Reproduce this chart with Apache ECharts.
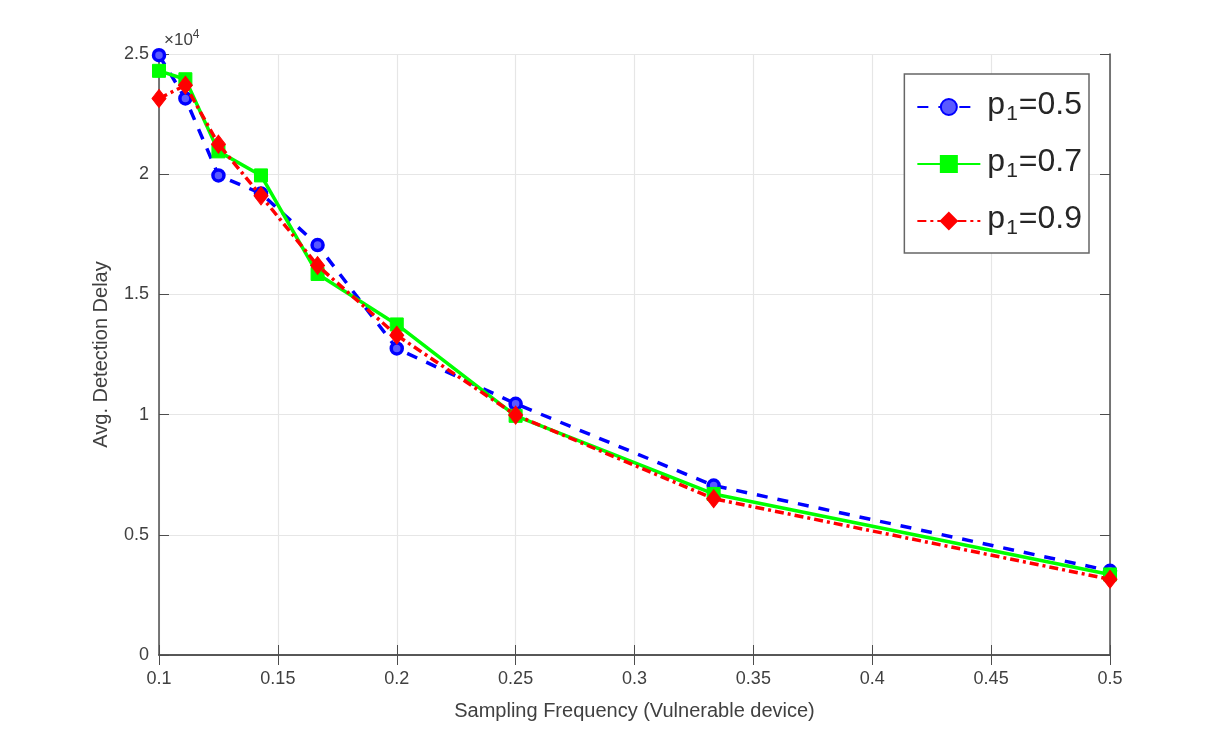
<!DOCTYPE html>
<html>
<head>
<meta charset="utf-8">
<script src="https://cdn.jsdelivr.net/npm/echarts@6/dist/echarts.min.js"></script>
<style>
  html, body { margin: 0; padding: 0; background: #fff; }
  #chart { width: 1225px; height: 736px; }
</style>
</head>
<body>
<div id="chart"></div>
<script>
  // sampling frequency (x) = 1/N
  var freq = [0.1, 0.1111, 0.125, 0.1429, 0.1667, 0.2, 0.25, 0.3333, 0.5]
  // avg. detection delay
  var delayP05 = [24950, 23150, 19950, 19200, 17050, 12750, 10450, 7050, 3500]
  var delayP07 = [24300, 23950, 20950, 19950, 15850, 13750, 9950, 6700, 3350]
  var delayP09 = [23150, 23700, 21250, 19100, 16200, 13300, 9980, 6500, 3150]
  var seriesNames = ['p1=0.5', 'p1=0.7', 'p1=0.9']
  var xTicks = [0.1, 0.5, 0.05]
  var yTicks = [0, 25000, 5000]

  function pairs(ys){
    return ys.map(function(y, i){ return [freq[i], y] })
  }

  var axisColor = '#4d4d4d'
  var labelColor = '#404040'
  var gridColor = '#e6e6e6'
  var font = 'Liberation Sans, Arial, sans-serif'

  var myChart = echarts.init(document.getElementById('chart'))
  var chartOption = {
    backgroundColor: '#fff',
    animation: false,
    textStyle: { fontFamily: font },
    grid: { left: 159, right: 115, top: 54, bottom: 81 },
    graphic: [{
      type: 'text',
      left: 164,
      top: 29,
      style: {
        text: '{a|×10}{b|4}',
        fill: labelColor,
        rich: {
          a: { fontSize: 17, fontFamily: font, fill: labelColor, lineHeight: 20, verticalAlign: 'bottom' },
          b: { fontSize: 12, fontFamily: font, fill: labelColor, lineHeight: 10, verticalAlign: 'top' }
        }
      }
    }],
    legend: {
      orient: 'vertical',
      right: 136,
      top: 74,
      data: seriesNames,
      backgroundColor: '#fff',
      borderColor: '#666',
      borderWidth: 1.5,
      borderRadius: 0,
      padding: [15, 7, 14, 12],
      itemWidth: 63,
      itemHeight: 20,
      itemGap: 21,
      formatter: function(n){ return '{m|p}{s|1}{m|' + n.slice(2) + '}' },
      textStyle: {
        fontSize: 32,
        color: '#262626',
        fontFamily: font,
        padding: [0, 0, 0, 2],
        rich: {
          m: { fontSize: 32, fontFamily: font, color: '#262626', lineHeight: 36, verticalAlign: 'top' },
          s: { fontSize: 21, fontFamily: font, color: '#262626', lineHeight: 10, verticalAlign: 'bottom', padding: [0, 1, 0, 1] }
        }
      }
    },
    xAxis: [{
      type: 'value',
      min: xTicks[0], max: xTicks[1], interval: xTicks[2],
      name: 'Sampling Frequency (Vulnerable device)',
      nameLocation: 'middle',
      nameGap: 46,
      nameTextStyle: { fontSize: 20, color: labelColor },
      axisLine: { lineStyle: { color: axisColor, width: 1.5 } },
      axisTick: { inside: true, length: 10, lineStyle: { color: axisColor } },
      axisLabel: { fontSize: 18, color: labelColor, margin: 15,
        formatter: function(v){ return +v.toFixed(2) + '' } },
      splitLine: { show: true, lineStyle: { color: gridColor, width: 1.2 } }
    }, {
      type: 'value',
      position: 'top',
      min: xTicks[0], max: xTicks[1], interval: xTicks[2],
      axisLine: { show: true, lineStyle: { color: axisColor, width: 1.5 } },
      axisTick: { show: true, inside: true, length: 10, lineStyle: { color: axisColor } },
      axisLabel: { show: false },
      splitLine: { show: false }
    }],
    yAxis: [{
      type: 'value',
      min: yTicks[0], max: yTicks[1], interval: yTicks[2],
      name: 'Avg. Detection Delay',
      nameLocation: 'middle',
      nameGap: 48,
      nameTextStyle: { fontSize: 20, color: labelColor },
      axisLine: { show: true, lineStyle: { color: axisColor, width: 1.5 } },
      axisTick: { show: true, inside: true, length: 10, lineStyle: { color: axisColor } },
      axisLabel: { fontSize: 18, color: labelColor, margin: 10,
        formatter: function(v){ return (v / 10000) + '' } },
      splitLine: { show: true, lineStyle: { color: gridColor, width: 1.2 } }
    }, {
      type: 'value',
      position: 'right',
      min: yTicks[0], max: yTicks[1], interval: yTicks[2],
      axisLine: { show: true, lineStyle: { color: axisColor, width: 1.5 } },
      axisTick: { show: true, inside: true, length: 10, lineStyle: { color: axisColor } },
      axisLabel: { show: false },
      splitLine: { show: false }
    }],
    series: [
      {
        name: seriesNames[0],
        type: 'line',
        data: pairs(delayP05),
        symbol: 'circle',
        symbolSize: 11,
        lineStyle: { color: '#0000ff', width: 3.5, type: [11, 10] },
        itemStyle: { color: '#5a5aff', borderColor: '#0000ff', borderWidth: 3.5 },
        z: 2
      },
      {
        name: seriesNames[1],
        type: 'line',
        data: pairs(delayP07),
        symbol: 'rect',
        symbolSize: 13,
        lineStyle: { color: '#00ff00', width: 3.5, type: 'solid' },
        itemStyle: { color: '#00ff00', borderColor: '#00ff00', borderWidth: 1 },
        z: 3
      },
      {
        name: seriesNames[2],
        type: 'line',
        data: pairs(delayP09),
        symbol: 'diamond',
        symbolSize: [14, 18],
        lineStyle: { color: '#ff0000', width: 3.5, type: [9, 4, 3, 4] },
        itemStyle: { color: '#ff0000', borderColor: '#ff0000', borderWidth: 1 },
        z: 4
      }
    ]
  }
  myChart.setOption(chartOption)
</script>
</body>
</html>
